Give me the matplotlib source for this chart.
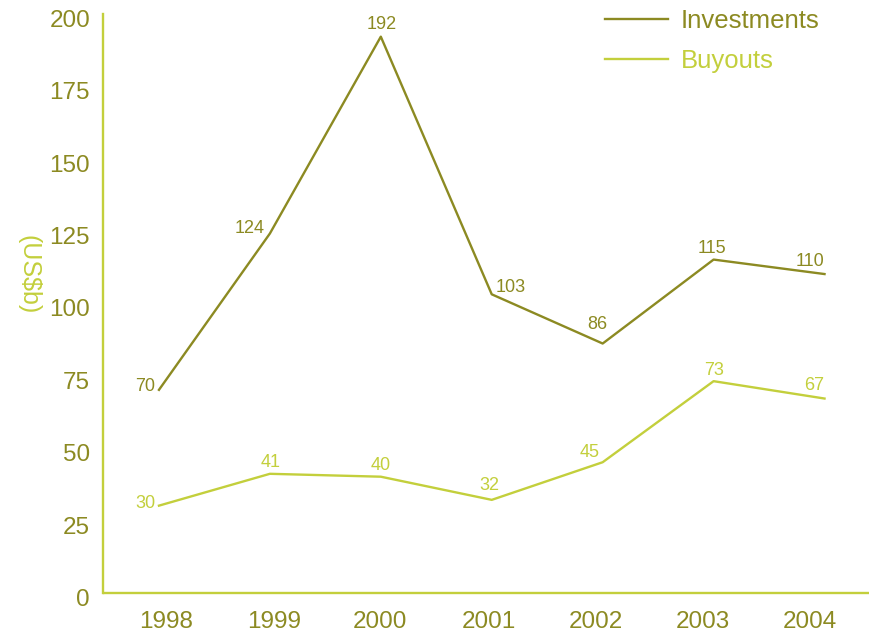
import matplotlib
matplotlib.use("Agg")
import matplotlib.pyplot as plt
import matplotlib.transforms as mtransforms

years = [1998, 1999, 2000, 2001, 2002, 2003, 2004]
investments = [70, 124, 192, 103, 86, 115, 110]
buyouts = [30, 41, 40, 32, 45, 73, 67]
yticks = [0, 25, 50, 75, 100, 125, 150, 175, 200]

dark = "#8c8a22"
light = "#c3cf3c"

plt.rcParams["font.family"] = ["Liberation Sans", "DejaVu Sans"]

fig = plt.figure(figsize=(8.7, 6.34), dpi=100)
ax = fig.add_axes([103.5 / 870, 41.5 / 634, (870 - 103.5) / 870, 579 / 634])

l1, = ax.plot(years, investments, color=dark, lw=1.7, label="Investments")
l2, = ax.plot(years, buyouts, color=light, lw=1.7, label="Buyouts")

# label offsets (pixels, x right / y up) from each point to the label centre
inv_off = [(-14, 3), (-20, 5), (1, 12), (19, 7), (-5, 19), (-2, 11), (-15, 13)]
buy_off = [(-14, 2), (1, 11), (0, 11), (-2, 14), (-13, 10), (0, 11), (-10, 13)]
for x, y, o in zip(years, investments, inv_off):
    ax.annotate(str(y), (x, y), xytext=o, textcoords="offset pixels",
                ha="center", va="center", fontsize=13, color=dark)
for x, y, o in zip(years, buyouts, buy_off):
    ax.annotate(str(y), (x, y), xytext=o, textcoords="offset pixels",
                ha="center", va="center", fontsize=13, color=light)

ax.set_xlim(1997.5, 2004.41)
ax.set_ylim(0, 200)
ax.set_xticks(years)
ax.set_xticklabels([str(y) for y in years])
ax.set_yticks(yticks)
ax.tick_params(axis="both", length=0, labelsize=17.5, labelcolor=dark)
ax.tick_params(axis="x", pad=13)
ax.tick_params(axis="y", pad=9.7)
shift = mtransforms.ScaledTranslation(0, -5 / 100, fig.dpi_scale_trans)
for lab in ax.get_yticklabels():
    lab.set_transform(lab.get_transform() + shift)
# the year labels in the original sit slightly off the data columns
xlab_shift = [7.5, 4.5, -0.5, -3, -7, -11, -14.5]
for lab, dx in zip(ax.get_xticklabels(), xlab_shift):
    lab.set_transform(lab.get_transform() +
                      mtransforms.ScaledTranslation(dx / 100, 0, fig.dpi_scale_trans))
for s in ["top", "right"]:
    ax.spines[s].set_visible(False)
for s in ["left", "bottom"]:
    ax.spines[s].set_color(light)
    ax.spines[s].set_linewidth(1.7)

fig.text(28 / 870, 1 - 275 / 634, "(US$b)", rotation=270, color=light,
         fontsize=18, ha="center", va="center")

leg = ax.legend(handles=[l1, l2], loc="upper left", frameon=False,
                fontsize=18.5, handlelength=2.45, handletextpad=0.5,
                labelspacing=0.62, borderpad=0, borderaxespad=0,
                bbox_to_anchor=(605 / 870, 1 - 9 / 634),
                bbox_transform=fig.transFigure)
for t, c in zip(leg.get_texts(), [dark, light]):
    t.set_color(c)

fig.savefig("out.png", dpi=100)
